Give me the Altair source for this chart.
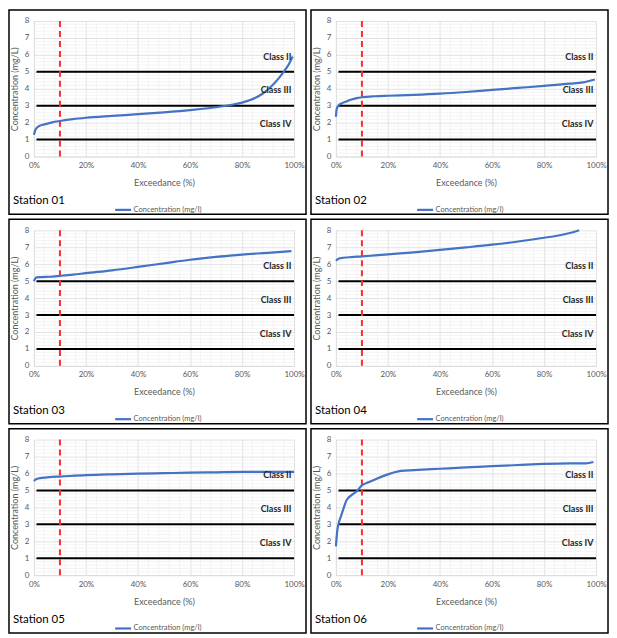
import altair as alt
import pandas as pd

# ---------------- data ----------------
stations = ["Station 01", "Station 02", "Station 03", "Station 04", "Station 05", "Station 06"]

x01 = [0, 0.5, 1, 2, 4, 7, 10, 15, 20, 30, 40, 50, 60, 65, 70, 75, 80, 85, 88, 91, 94, 96, 98, 99.5]
y01 = [1.28, 1.55, 1.68, 1.8, 1.9, 2.02, 2.1, 2.21, 2.29, 2.4, 2.5, 2.61, 2.74, 2.82, 2.91, 3.03, 3.18, 3.45, 3.72, 4.1, 4.6, 5.0, 5.45, 5.9]

x02 = [0, 0.3, 1, 2, 4, 6, 8, 10, 15, 20, 30, 40, 50, 60, 70, 80, 90, 95, 99.5]
y02 = [2.35, 2.8, 3.02, 3.12, 3.25, 3.37, 3.45, 3.5, 3.56, 3.59, 3.64, 3.71, 3.81, 3.93, 4.05, 4.17, 4.3, 4.38, 4.55]

x03 = [0, 0.5, 1, 3, 6, 10, 15, 20, 30, 40, 50, 60, 70, 80, 90, 99]
y03 = [5.0, 5.15, 5.22, 5.24, 5.26, 5.31, 5.38, 5.47, 5.64, 5.84, 6.05, 6.26, 6.43, 6.57, 6.67, 6.77]

x04 = [0, 1, 3, 6, 10, 15, 20, 30, 40, 50, 60, 70, 80, 85, 90, 93.5]
y04 = [6.2, 6.32, 6.38, 6.42, 6.46, 6.52, 6.58, 6.7, 6.84, 6.99, 7.15, 7.34, 7.56, 7.68, 7.84, 8.0]

x05 = [0, 1, 3, 6, 10, 20, 30, 40, 50, 60, 70, 80, 90, 100]
y05 = [5.55, 5.68, 5.74, 5.79, 5.82, 5.9, 5.95, 5.99, 6.02, 6.05, 6.07, 6.09, 6.1, 6.1]

x06 = [0, 0.5, 1, 2, 3, 4, 6, 8, 10, 12, 15, 20, 25, 30, 40, 50, 60, 70, 80, 90, 96, 99]
y06 = [1.7, 2.6, 3.02, 3.5, 3.97, 4.4, 4.72, 4.95, 5.3, 5.45, 5.65, 5.95, 6.15, 6.2, 6.28, 6.36, 6.43, 6.5, 6.57, 6.6, 6.6, 6.68]

xs_all = [x01, x02, x03, x04, x05, x06]
ys_all = [y01, y02, y03, y04, y05, y06]

series_name = "Concentration (mg/l)"
class_names = ["Class II", "Class III", "Class IV"]
class_y = [5.9, 3.9, 1.9]
class_x = [99, 99, 99]
threshold_y = [1, 3, 5]
threshold_x0 = [1, 1, 1]
threshold_x1 = [100, 100, 100]
ref_x = [10]
ref_y0 = [0]
ref_y1 = [8]
x_ticks = [0, 20, 40, 60, 80, 100]
y_ticks = [0, 1, 2, 3, 4, 5, 6, 7, 8]
minor_x = [4, 8, 12, 16, 24, 28, 32, 36, 44, 48, 52, 56, 64, 68, 72, 76, 84, 88, 92, 96]
minor_y = [0.2, 0.4, 0.6, 0.8, 1.2, 1.4, 1.6, 1.8, 2.2, 2.4, 2.6, 2.8, 3.2, 3.4, 3.6, 3.8,
           4.2, 4.4, 4.6, 4.8, 5.2, 5.4, 5.6, 5.8, 6.2, 6.4, 6.6, 6.8, 7.2, 7.4, 7.6, 7.8]

# ---------------- layout ----------------
W = 261
H = 136
FONT = "Lato"
GRAY = "#595959"

xsc = alt.Scale(domain=[0, 100], nice=False, zero=False)
ysc = alt.Scale(domain=[0, 8], nice=False, zero=False)

x_axis = alt.Axis(values=x_ticks, labelExpr="datum.value + '%'", title="Exceedance (%)",
                  grid=True, gridColor="#d9d9d9", gridWidth=0.8,
                  domainColor="#d9d9d9", domainWidth=0.8, ticks=False,
                  labelPadding=5, labelFontSize=8, labelColor=GRAY, labelFlush=False,
                  labelOverlap=False, labelFont=FONT,
                  titleFontSize=9, titleColor=GRAY, titleFontWeight="normal", titleFont=FONT,
                  titleY=26, titleBaseline="middle")
y_axis = alt.Axis(values=y_ticks, title="Concentration (mg/L)",
                  grid=True, gridColor="#d9d9d9", gridWidth=0.8,
                  domainColor="#d9d9d9", domainWidth=0.8, ticks=False,
                  labelPadding=5, labelFontSize=8, labelColor=GRAY, labelFlush=False,
                  labelOverlap=False, labelFont=FONT,
                  titleFontSize=9, titleColor=GRAY, titleFontWeight="normal", titleFont=FONT,
                  titleX=-19, titleY=H / 2, titleBaseline="middle", titleAlign="center")


def X(field):
    return alt.X(field, type="quantitative", scale=xsc, axis=x_axis)


def Y(field):
    return alt.Y(field, type="quantitative", scale=ysc, axis=y_axis)


def panel(name, xs, ys):
    line_df = pd.DataFrame({"x": xs, "y": ys, "series": [series_name] * len(xs)})
    label_df = pd.DataFrame({"station": [name]})
    mx_df = pd.DataFrame({"mx": minor_x})
    my_df = pd.DataFrame({"my": minor_y})
    thr_df = pd.DataFrame({"ty": threshold_y, "tx0": threshold_x0, "tx1": threshold_x1})
    ref_df = pd.DataFrame({"rx": ref_x, "ry0": ref_y0, "ry1": ref_y1})
    cls_df = pd.DataFrame({"cname": class_names, "cx": class_x, "cy": class_y})

    minor_v = alt.Chart(mx_df).mark_rule(color="#efefef", strokeWidth=0.7).encode(x=X("mx"))
    minor_h = alt.Chart(my_df).mark_rule(color="#efefef", strokeWidth=0.7).encode(y=Y("my"))
    thr = alt.Chart(thr_df).mark_rule(color="black", strokeWidth=2).encode(
        x=X("tx0"), x2="tx1", y=Y("ty"))
    ref = alt.Chart(ref_df).mark_rule(color="#ff2a2a", strokeWidth=2, strokeDash=[6, 4]).encode(
        x=X("rx"), y=Y("ry0"), y2="ry1")
    line = alt.Chart(line_df).mark_line(strokeWidth=2.2, interpolate="monotone").encode(
        x=X("x"), y=Y("y"),
        color=alt.Color("series:N",
                        scale=alt.Scale(domain=[series_name], range=["#4472c4"]),
                        legend=alt.Legend(title=None, orient="none", legendX=80, legendY=180,
                                          symbolType="stroke", symbolStrokeWidth=2.2,
                                          symbolSize=256, labelFontSize=7.5, labelColor=GRAY,
                                          labelFont=FONT, labelOffset=1, padding=0)))
    cls = alt.Chart(cls_df).mark_text(align="right", baseline="middle", fontWeight="bold",
                                      fontSize=9, font=FONT, color="#262626").encode(
        x=X("cx"), y=Y("cy"), text="cname:N")
    st = alt.Chart(label_df).mark_text(align="left", baseline="middle", fontSize=11.5,
                                       font=FONT, color="black").encode(
        x=alt.value(-21), y=alt.value(H + 45), text="station:N")
    border = alt.Chart(label_df).mark_rect(fillOpacity=0, stroke="black", strokeWidth=1.5).encode(
        x=alt.value(-25), x2=alt.value(W + 12), y=alt.value(-11), y2=alt.value(H + 58))

    return alt.layer(minor_v, minor_h, thr, ref, line, cls, st, border).properties(
        width=W, height=H)


panels = [panel(n, xs, ys) for n, xs, ys in zip(stations, xs_all, ys_all)]

chart = alt.concat(*panels, columns=2, spacing=3).resolve_scale(
    color="independent").resolve_legend(color="independent").properties(
    padding=0, background="white").configure_view(stroke=None)

chart.save("out.html", embed_options={"renderer": "svg", "actions": False})
